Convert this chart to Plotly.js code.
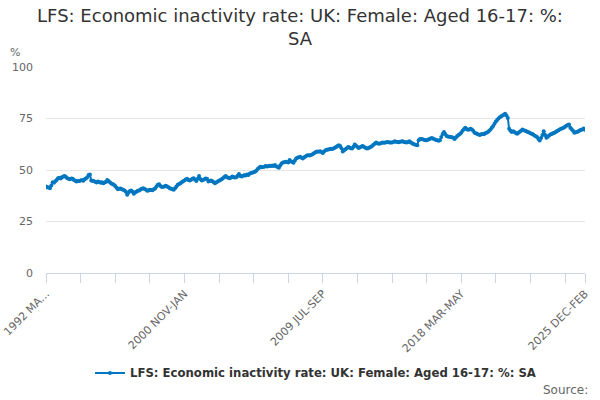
<!DOCTYPE html>
<html>
<head>
<meta charset="utf-8">
<script src="https://cdn.plot.ly/plotly-3.0.1.min.js"></script>
<style>html,body{margin:0;padding:0;background:#fff;}#chart{width:600px;height:400px;}</style>
</head>
<body>
<div id="chart"></div>
<script>
// Rolling three-month periods, 1992 MAR-MAY to 2025 DEC-FEB
var monthAbbr = ["JAN","FEB","MAR","APR","MAY","JUN","JUL","AUG","SEP","OCT","NOV","DEC"];
var categories = [];
for (var k = 0; k < 406; k++) {
  var m = 2 + k; var y = 1992 + Math.floor(m / 12); var s = m % 12;
  categories.push(y + " " + monthAbbr[s] + "-" + monthAbbr[(s + 2) % 12]);
}

var inactivityRate = [
42.0,41.6,41.5,41.2,42.5,44.0,43.8,44.5,45.2,46.0,
46.2,45.9,46.5,46.8,47.1,46.6,46.0,45.7,45.5,45.9,
45.8,45.2,44.8,44.4,44.7,44.6,44.9,45.2,44.8,45.5,
45.9,46.5,47.6,47.8,44.9,44.8,44.5,44.3,43.9,44.4,
44.2,43.8,44.1,43.6,43.9,44.2,45.2,44.6,44.0,43.5,
43.2,42.8,42.2,41.5,40.7,40.9,41.0,40.6,40.4,40.1,
39.5,38.0,39.0,39.8,40.1,39.4,38.5,39.2,39.5,39.9,
40.1,40.5,40.9,41.2,40.8,40.5,39.9,40.1,40.4,40.3,
40.2,40.6,41.0,42.0,42.8,43.1,42.2,41.8,41.9,42.0,
42.3,42.0,41.6,41.2,40.9,40.6,40.4,41.2,42.0,42.8,
43.2,43.6,44.0,44.5,44.9,45.4,45.8,45.2,44.9,45.3,
45.8,46.0,45.3,44.7,45.8,47.1,45.6,44.9,45.2,45.5,
45.9,45.8,44.4,44.6,44.9,44.5,44.0,43.6,44.0,44.4,
44.8,45.2,45.5,46.0,46.6,47.1,46.5,46.2,46.0,46.4,
46.8,46.5,46.3,46.5,47.2,48.1,47.1,46.8,47.2,47.5,
47.3,47.8,47.6,48.2,48.5,48.7,48.9,49.2,49.6,50.5,
51.0,51.6,51.3,51.4,51.6,51.9,51.7,51.8,52.1,52.0,
52.2,52.0,52.4,51.8,51.4,51.1,52.2,53.2,53.6,53.8,
54.0,53.9,53.7,54.8,54.2,53.9,53.5,54.6,55.6,55.9,
56.2,56.4,55.9,55.6,56.2,56.6,57.0,57.2,57.0,57.3,
57.5,58.0,58.4,58.8,59.0,58.9,59.1,58.7,58.3,59.0,
59.6,59.8,60.0,60.1,60.3,60.2,60.4,60.8,61.2,61.6,
62.0,61.7,60.5,59.0,59.6,60.1,60.6,61.2,60.9,60.6,
60.4,61.3,62.4,61.8,61.2,60.7,61.0,61.4,61.7,61.2,
60.8,60.4,60.6,60.9,61.2,61.6,62.2,62.8,63.3,63.0,
62.8,62.9,63.1,63.3,63.2,63.4,63.5,63.6,63.4,63.3,
63.4,63.6,63.9,63.7,63.6,63.5,63.7,63.8,63.9,63.6,
63.5,63.3,63.6,63.9,63.5,63.0,62.6,62.4,62.2,62.0,
64.4,65.1,65.0,64.9,64.7,64.5,64.4,64.7,65.0,65.3,
65.5,65.2,64.9,64.6,64.4,64.2,64.5,66.0,67.5,68.5,
67.5,66.5,66.3,66.1,66.0,65.9,65.6,65.1,65.8,66.5,
67.0,67.5,68.1,69.0,69.8,70.5,69.9,69.5,69.7,70.0,
69.6,69.0,68.1,67.8,67.5,67.2,67.0,67.3,67.5,67.4,
67.8,68.1,68.5,69.0,69.6,70.5,71.4,72.5,73.5,74.3,
75.0,75.6,76.1,76.4,76.8,77.3,76.5,75.3,70.0,69.0,
68.5,68.8,68.4,68.0,67.6,68.1,68.6,69.1,69.7,69.3,
69.0,68.8,68.5,68.2,67.9,67.6,67.2,66.8,66.4,66.0,
65.0,64.3,65.5,67.0,68.8,67.0,65.6,66.2,66.8,67.2,
67.5,67.8,68.1,68.5,68.9,69.3,69.7,70.0,70.3,70.5,
71.0,71.5,71.8,72.1,70.5,69.8,69.0,68.1,68.3,68.5,
68.8,69.2,69.5,69.7,70.1,69.5
];

var tickIndices = [0,26,52,78,104,130,156,182,208,234,260,286,312,338,364,390,405];
var tickLabels  = ["1992 MA...","","","","2000 NOV-JAN","","","","2009 JUL-SEP","","","","2018 MAR-MAY","","","","2025 DEC-FEB"];
var yTicks = [0,25,50,75,100];

var seriesName = "LFS: Economic inactivity rate: UK: Female: Aged 16-17: %: SA";
var FONT = "DejaVu Sans, sans-serif";

var trace = {
  x: categories,
  y: inactivityRate,
  type: "scatter",
  mode: "lines+markers",
  name: seriesName,
  line: {color: "#0077c0", width: 2},
  marker: {color: "#0077c0", size: 4}
};

var layout = {
  width: 600, height: 400,
  margin: {l: 46, r: 15, t: 67, b: 127},
  paper_bgcolor: "#fff", plot_bgcolor: "#fff",
  font: {family: FONT, color: "#666"},
  title: {
    text: "LFS: Economic inactivity rate: UK: Female: Aged 16-17: %:<br>SA",
    font: {family: FONT, size: 18, color: "#333"},
    x: 0.5, xanchor: "center", y: 0.945, yanchor: "middle"
  },
  xaxis: {
    type: "category",
    range: [0, 405],
    tickmode: "array",
    tickvals: tickIndices.map(function(i){ return categories[i]; }),
    ticktext: tickLabels,
    tickangle: -45,
    ticks: "outside", ticklen: 9, tickcolor: "#ccd6eb", tickwidth: 1,
    showline: true, linecolor: "#ccd6eb", linewidth: 1,
    showgrid: false, zeroline: false,
    tickfont: {family: FONT, size: 11, color: "#666"}
  },
  yaxis: {
    range: [0, 100],
    tickmode: "array", tickvals: yTicks,
    showgrid: true, gridcolor: "#e6e6e6", gridwidth: 1,
    zeroline: false, showline: false, ticks: "",
    ticklabelstandoff: 12,
    tickfont: {family: FONT, size: 11, color: "#666"}
  },
  showlegend: true,
  legend: {
    orientation: "h", x: 0.5, xanchor: "center", y: -0.485, yanchor: "middle",
    font: {family: FONT, size: 11.7, color: "#333", weight: "bold"}
  },
  annotations: [
    {text: "%", xref: "paper", yref: "paper", x: -0.057, y: 1.07, xanchor: "center", yanchor: "middle",
     showarrow: false, font: {family: FONT, size: 11, color: "#666"}},
    {text: "Source:", xref: "paper", yref: "paper", x: 1.01, y: -0.567, xanchor: "right", yanchor: "middle",
     showarrow: false, font: {family: FONT, size: 12, color: "#666"}}
  ]
};

Plotly.newPlot("chart", [trace], layout, {displayModeBar: false, staticPlot: true});
</script>
</body>
</html>
